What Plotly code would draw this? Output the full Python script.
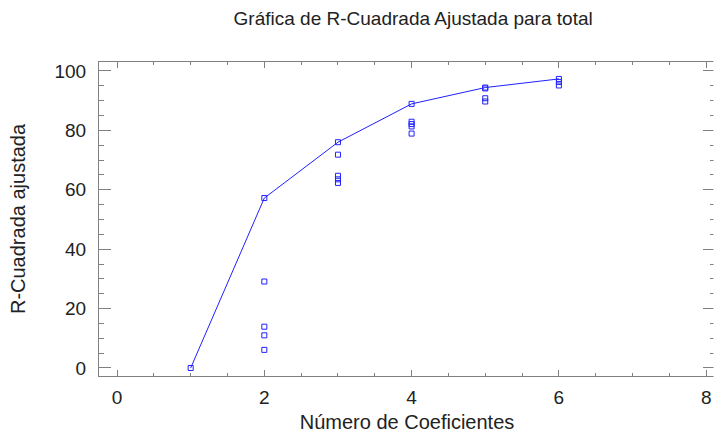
import plotly.graph_objects as go

# Best model per number of coefficients (line)
best_x = [1, 2, 3, 4, 5, 6]
best_y = [0.0, 57.2, 76.0, 88.9, 94.4, 97.3]

# All candidate models (scatter)
pts_x = [1, 2, 2, 2, 2, 2, 3, 3, 3, 3, 3, 4, 4, 4, 4, 4, 5, 5, 5, 5, 6, 6, 6]
pts_y = [0.0, 57.2, 29.1, 13.9, 11.0, 6.1,
         76.0, 71.8, 64.7, 63.5, 62.3,
         88.9, 82.9, 82.1, 81.3, 78.9,
         94.4, 94.1, 90.8, 89.7,
         97.3, 96.3, 95.1]

x_ticks = [0, 2, 4, 6, 8]
y_ticks = [0, 20, 40, 60, 80, 100]

FONT = "Liberation Sans"
BLUE = "#2020ff"
AX = "#808080"

fig = go.Figure()
fig.add_trace(go.Scatter(x=best_x, y=best_y, mode="lines",
                         line=dict(color=BLUE, width=1), hoverinfo="skip", showlegend=False))
fig.add_trace(go.Scatter(x=pts_x, y=pts_y, mode="markers",
                         marker=dict(symbol="square-open", size=5, color=BLUE, line=dict(width=1, color=BLUE)),
                         showlegend=False))

fig.update_layout(
    width=715, height=434,
    margin=dict(l=99, r=0, t=62, b=58),
    paper_bgcolor="white", plot_bgcolor="white",
    font=dict(family=FONT, size=18, color="#222222"),
    title=dict(text="Gráfica de R-Cuadrada Ajustada para total", x=0.51, xref="paper",
               y=1 - 18 / 434, yanchor="middle", font=dict(family=FONT, size=19, color="#222222")),
    shapes=[dict(type="line", xref="paper", yref="paper", x0=1, x1=1, y0=-0.01, y1=1.01,
                 line=dict(color="white", width=3), layer="above")],
)
fig.update_xaxes(
    range=[-0.245, 8.12], tickvals=x_ticks, ticktext=[str(v) for v in x_ticks],
    showgrid=False, zeroline=False, showline=True, linecolor=AX, linewidth=1,
    mirror="ticks", ticks="inside", ticklen=6, tickcolor=AX,
    minor=dict(dtick=0.5, tick0=0, ticks="inside", ticklen=3, tickcolor=AX, showgrid=False),
    title=dict(text="Número de Coeficientes", font=dict(family=FONT, size=20), standoff=8),
    tickfont=dict(family=FONT, size=19), ticklabelstandoff=4,
)
fig.update_yaxes(
    range=[-2.7, 103.0], tickvals=y_ticks, ticktext=[str(v) for v in y_ticks],
    showgrid=False, zeroline=False, showline=True, linecolor=AX, linewidth=1,
    mirror="ticks", ticks="inside", ticklen=12, tickcolor=AX,
    minor=dict(dtick=5, tick0=0, ticks="inside", ticklen=5, tickcolor=AX, showgrid=False),
    title=dict(text="R-Cuadrada ajustada", font=dict(family=FONT, size=20), standoff=23),
    tickfont=dict(family=FONT, size=19), ticklabelstandoff=8,
)

fig.write_html("out.html")
